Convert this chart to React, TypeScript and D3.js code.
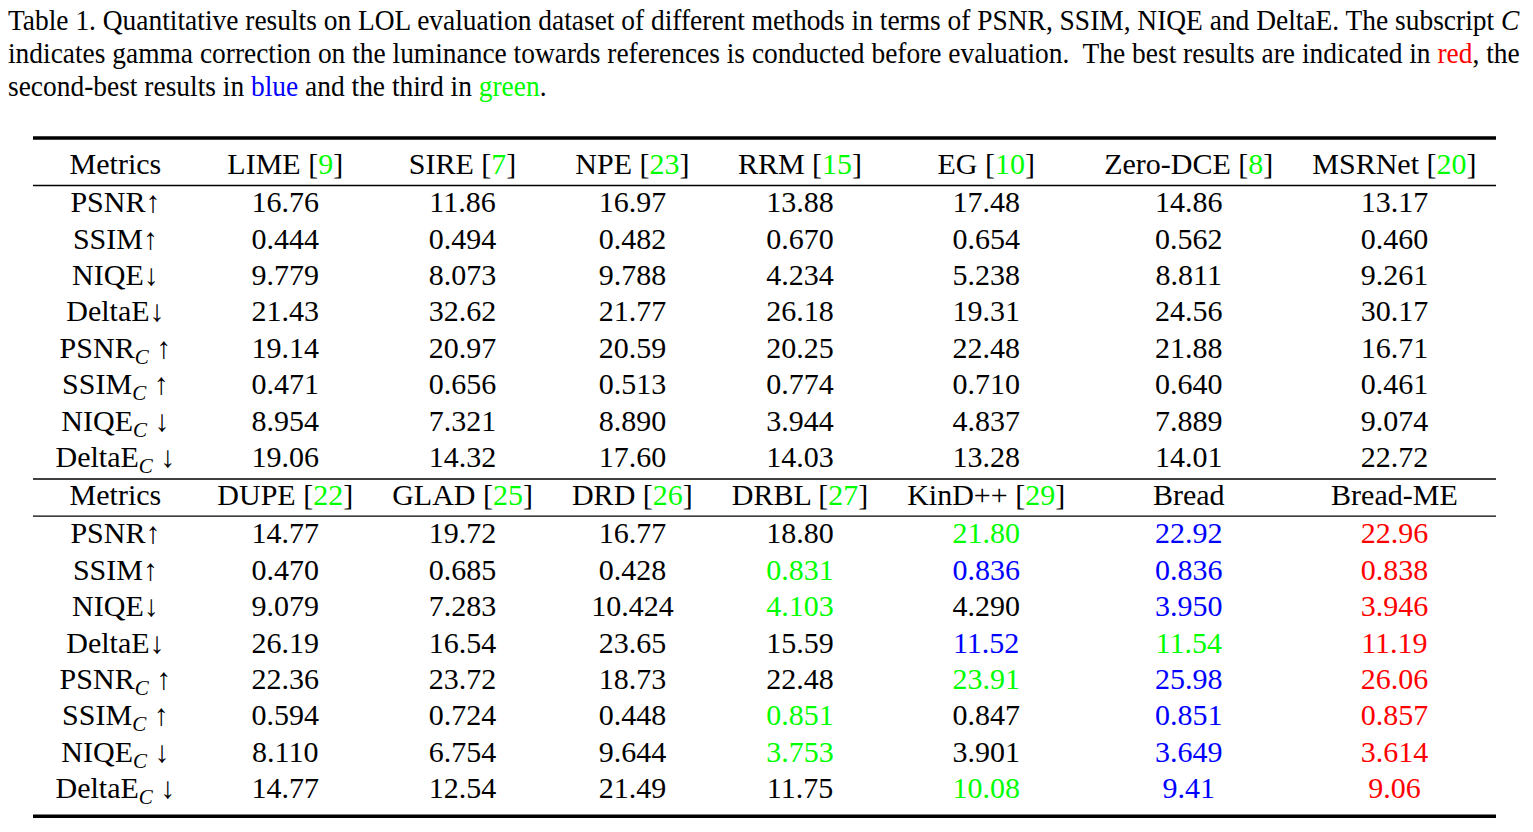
import React, { useEffect, useRef } from "react";
import * as d3 from "d3";

const W = 1533;
const H = 832;
const FONT = "'Liberation Serif', 'Times New Roman', Times, serif";
const RED = "#ff0000";
const BLUE = "#0000ff";
const GREEN = "#00ff00";

// ---- data ----
const metricNames = ["PSNR", "SSIM", "NIQE", "DeltaE", "PSNR", "SSIM", "NIQE", "DeltaE"];
const metricCorrected = [false, false, false, false, true, true, true, true];
const metricArrows = ["↑", "↑", "↓", "↓", "↑", "↑", "↓", "↓"];

const methodsTop = ["LIME", "SIRE", "NPE", "RRM", "EG", "Zero-DCE", "MSRNet"];
const refsTop = ["9", "7", "23", "15", "10", "8", "20"];
const methodsBottom = ["DUPE", "GLAD", "DRD", "DRBL", "KinD++", "Bread", "Bread-ME"];
const refsBottom = ["22", "25", "26", "27", "29", "", ""];

const valuesTop = [
  ["16.76", "11.86", "16.97", "13.88", "17.48", "14.86", "13.17"],
  ["0.444", "0.494", "0.482", "0.670", "0.654", "0.562", "0.460"],
  ["9.779", "8.073", "9.788", "4.234", "5.238", "8.811", "9.261"],
  ["21.43", "32.62", "21.77", "26.18", "19.31", "24.56", "30.17"],
  ["19.14", "20.97", "20.59", "20.25", "22.48", "21.88", "16.71"],
  ["0.471", "0.656", "0.513", "0.774", "0.710", "0.640", "0.461"],
  ["8.954", "7.321", "8.890", "3.944", "4.837", "7.889", "9.074"],
  ["19.06", "14.32", "17.60", "14.03", "13.28", "14.01", "22.72"],
];
const ranksTop = [".......", ".......", ".......", ".......", ".......", ".......", ".......", "......."];

const valuesBottom = [
  ["14.77", "19.72", "16.77", "18.80", "21.80", "22.92", "22.96"],
  ["0.470", "0.685", "0.428", "0.831", "0.836", "0.836", "0.838"],
  ["9.079", "7.283", "10.424", "4.103", "4.290", "3.950", "3.946"],
  ["26.19", "16.54", "23.65", "15.59", "11.52", "11.54", "11.19"],
  ["22.36", "23.72", "18.73", "22.48", "23.91", "25.98", "26.06"],
  ["0.594", "0.724", "0.448", "0.851", "0.847", "0.851", "0.857"],
  ["8.110", "6.754", "9.644", "3.753", "3.901", "3.649", "3.614"],
  ["14.77", "12.54", "21.49", "11.75", "10.08", "9.41", "9.06"],
];
// r = best, b = second, g = third, . = plain
const ranksBottom = [
  "....gbr",
  "...gbbr",
  "...g.br",
  "....bgr",
  "....gbr",
  "...g.br",
  "...g.br",
  "....gbr",
];

type Seg = { t: string; fill?: string; italic?: boolean; sub?: boolean };

const captionLines: Seg[][] = [
  [
    { t: "Table 1. Quantitative results on LOL evaluation dataset of different methods in terms of PSNR, SSIM, NIQE and DeltaE. The subscript " },
    { t: "C", italic: true },
  ],
  [
    { t: "indicates gamma correction on the luminance towards references is conducted before evaluation.  The best results are indicated in " },
    { t: "red", fill: RED },
    { t: ", the" },
  ],
  [
    { t: "second-best results in " },
    { t: "blue", fill: BLUE },
    { t: " and the third in " },
    { t: "green", fill: GREEN },
    { t: "." },
  ],
];

const rankColor: Record<string, string> = { r: RED, b: BLUE, g: GREEN, ".": "#000" };

// ---- layout constants ----
const CAP_FS = 29;
const CAP_X0 = 8;
const CAP_X1 = 1520;
const CAP_BASE = 30;
const CAP_LH = 33;

const TAB_FS = 30;
const SUB_FS = 21;
const TAB_X0 = 33;
const TAB_X1 = 1496;
const ROW0 = 174;
const PITCH = 36.4;
const RULE_GAP = 1.8;

function appendSegs(text: d3.Selection<SVGTextElement, unknown, null, undefined>, segs: Seg[]) {
  let shifted = 0;
  segs.forEach((s) => {
    const ts = text.append("tspan").text(s.t);
    if (s.fill) ts.attr("fill", s.fill);
    if (s.italic) ts.attr("font-style", "italic");
    const target = s.sub ? 6 : 0;
    if (s.sub) ts.attr("font-size", SUB_FS);
    if (target !== shifted) ts.attr("dy", target - shifted);
    shifted = target;
  });
}

export default function App() {
  const ref = useRef<SVGSVGElement | null>(null);

  useEffect(() => {
    const svg = d3.select(ref.current);
    svg.selectAll("*").remove();

    // ---- caption ----
    const capG = svg.append("g").attr("font-family", FONT).attr("font-size", CAP_FS).attr("fill", "#000");
    const capTexts = captionLines.map((segs) => {
      const t = capG.append("text").attr("x", 0).attr("y", 0).style("white-space", "pre");
      appendSegs(t, segs);
      return t;
    });
    const lens = capTexts.map((t) => (t.node() as SVGTextElement).getComputedTextLength());
    const sxs = lens.map((l) => (CAP_X1 - CAP_X0) / l);
    const sxLast = (sxs[0] + sxs[1]) / 2;
    capTexts.forEach((t, i) => {
      const sx = i < 2 ? sxs[i] : sxLast;
      t.attr("transform", `translate(${CAP_X0},${CAP_BASE + i * CAP_LH}) scale(${sx},1)`);
    });

    // ---- table cells ----
    type Cell = { row: number; col: number; segs: Seg[] };
    const cells: Cell[] = [];
    const header = (methods: string[], refs: string[], row: number) => {
      cells.push({ row, col: 0, segs: [{ t: "Metrics" }] });
      methods.forEach((m, j) => {
        const segs: Seg[] = refs[j]
          ? [{ t: `${m} [` }, { t: refs[j], fill: GREEN }, { t: "]" }]
          : [{ t: m }];
        cells.push({ row, col: j + 1, segs });
      });
    };
    const body = (vals: string[][], ranks: string[], row0: number) => {
      vals.forEach((rowVals, i) => {
        const labelSegs: Seg[] = metricCorrected[i]
          ? [{ t: metricNames[i] }, { t: "C", italic: true, sub: true }, { t: ` ${metricArrows[i]}` }]
          : [{ t: `${metricNames[i]}${metricArrows[i]}` }];
        cells.push({ row: row0 + i, col: 0, segs: labelSegs });
        rowVals.forEach((v, j) => {
          cells.push({ row: row0 + i, col: j + 1, segs: [{ t: v, fill: rankColor[ranks[i][j]] }] });
        });
      });
    };
    header(methodsTop, refsTop, 0);
    body(valuesTop, ranksTop, 1);
    header(methodsBottom, refsBottom, 9);
    body(valuesBottom, ranksBottom, 10);

    const tabG = svg.append("g").attr("font-family", FONT).attr("font-size", TAB_FS).attr("fill", "#000");
    const texts = cells.map((c) => {
      const t = tabG.append("text").attr("text-anchor", "middle").style("white-space", "pre");
      appendSegs(t, c.segs);
      return t;
    });
    const nCols = 8;
    const widths = d3.range(nCols).map(
      (col) =>
        d3.max(cells.map((c, k) => (c.col === col ? (texts[k].node() as SVGTextElement).getComputedTextLength() : 0))) || 0
    );
    // the first column is a little wider in the reference (tall math arrows)
    widths[0] += 6;
    const pad = (TAB_X1 - TAB_X0 - d3.sum(widths)) / (2 * nCols);
    const colW = widths.map((w) => w + 2 * pad);
    const colLeft = [TAB_X0, ...Array.from(d3.cumsum(colW)).map((s) => TAB_X0 + s)];
    const colCenter = (col: number) => colLeft[col] + colW[col] / 2;

    const rowScale = d3.scaleLinear().domain([0, 17]).range([ROW0, ROW0 + 17 * PITCH]);
    const rowY = (r: number) => rowScale(r) + RULE_GAP * ((r >= 1 ? 1 : 0) + (r >= 9 ? 1 : 0) + (r >= 10 ? 1 : 0));

    texts.forEach((t, k) => {
      t.attr("x", colCenter(cells[k].col)).attr("y", rowY(cells[k].row));
    });

    // ---- rules ----
    const rules = [
      { y: rowY(0) - 36, w: 3.6 },
      { y: rowY(0) + 11.5, w: 1.3 },
      { y: rowY(8) + 12, w: 1.3 },
      { y: rowY(9) + 11, w: 1.3 },
      { y: rowY(17) + 18, w: 3.6 },
    ];
    svg
      .append("g")
      .selectAll("line")
      .data(rules)
      .join("line")
      .attr("x1", TAB_X0)
      .attr("x2", TAB_X1)
      .attr("y1", (d) => d.y)
      .attr("y2", (d) => d.y)
      .attr("stroke", "#000")
      .attr("stroke-width", (d) => d.w);
  }, []);

  return (
    <svg
      ref={ref}
      width={W}
      height={H}
      style={{ position: "absolute", left: 0, top: 0, background: "#fff" }}
    />
  );
}
